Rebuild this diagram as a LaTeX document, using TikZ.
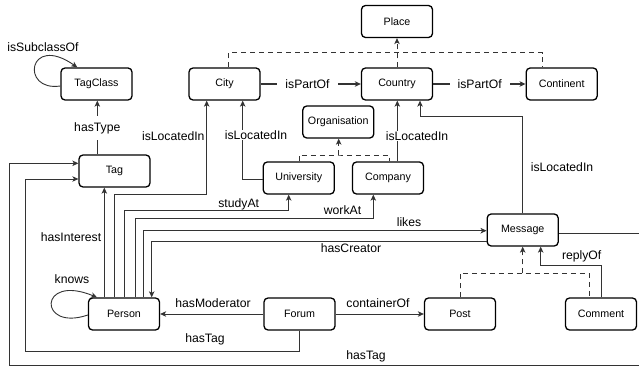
\documentclass[tikz,border=0pt]{standalone}
\usepackage{fontspec}
\setmainfont{Liberation Sans}
\usetikzlibrary{arrows.meta}
\tikzset{
  ent/.style={draw=black, line width=1.3pt, rounded corners=4pt, minimum width=71pt, minimum height=32pt, inner sep=0pt, font=\fontsize{10.7}{12}\selectfont, fill=white},
  conn/.style={draw=black!80, line width=0.9pt, -{Stealth[length=6pt,width=5.5pt,inset=1.6pt]}},
  dsh/.style={draw=black!80, line width=0.9pt, dash pattern=on 5pt off 4pt},
  lbl/.style={font=\fontsize{12.2}{14}\selectfont, inner sep=0.5pt},
  lblw/.style={lbl, fill=white},
}
\begin{document}
\begin{tikzpicture}[x=1pt,y=-1pt]
\clip (0,0) rectangle (639,371);
\fill[white] (0,0) rectangle (639,371);
% nodes
\node[ent] (TagClass) at (96.5,84) {TagClass};
\node[ent] (City) at (224.5,84) {City};
\node[ent] (Place) at (397,21.5) {Place};
\node[ent] (Country) at (397,84) {Country};
\node[ent] (Continent) at (561.7,84) {Continent};
\node[ent] (Tag) at (114.5,171) {Tag};
\node[ent] (Organisation) at (338.3,122) {Organisation};
\node[ent] (University) at (298.8,178) {University};
\node[ent] (Company) at (388,178) {Company};
\node[ent] (Message) at (522.7,230) {Message};
\node[ent] (Person) at (124,314) {Person};
\node[ent] (Forum) at (299.5,314) {Forum};
\node[ent] (Post) at (460,314) {Post};
\node[ent] (Comment) at (601,314) {Comment};
% coordinates
\coordinate (gP) at (397,52.7);
\coordinate (gO) at (338.7,155);
\coordinate (gM) at (522.7,273.3);
% isSubclassOf
\draw[conn] ([yshift=-2pt]TagClass.west) .. controls (20,92) and (28,33) .. ([xshift=-19.2pt]TagClass.north);
\node[lbl] (lSub) at (43,47) {isSubclassOf};
% hasType
\draw[conn] ([xshift=-17.2pt]Tag.north) -- ([xshift=0.8pt]TagClass.south);
\node[lblw, inner ysep=6pt] (lType) at (97.3,128) {hasType};
% isPartOf
\draw[conn, line width=1.4pt] (City) -- (Country);
\node[lblw, inner xsep=8pt] (lPart1) at (307.5,84) {isPartOf};
\draw[conn, line width=1.4pt] (Country) -- (Continent);
\node[lblw, inner xsep=8pt] (lPart2) at (479.7,84) {isPartOf};
% Place generalisation
\draw[dsh] ([xshift=4.2pt]City.north) |- (gP) -| ([xshift=-19pt]Continent.north);
\draw[dsh, -{Stealth[length=6pt,width=5.5pt,inset=1.6pt]}] (Country.north) -- (Place.south);
% Organisation generalisation
\draw[dsh] ([xshift=0.5pt]University.north) |- (gO) -| ([xshift=1.3pt]Company.north);
\draw[dsh, -{Stealth[length=6pt,width=5.5pt,inset=1.6pt]}] (gO) -- ([xshift=0.4pt]Organisation.south);
% University isLocatedIn City
\draw[conn] ([yshift=-1pt]University.west) -| ([xshift=18.2pt]City.south);
\node[lblw] (lLoc1) at (256,135) {isLocatedIn};
% Person isLocatedIn City
\draw[conn] ([xshift=-9.7pt]Person.north) |- (206.7,194) -- ([xshift=-17.8pt]City.south);
\node[lbl] (lLoc2) at (173.3,136) {isLocatedIn};
% studyAt
\draw[conn] (Person.north) |- (288.7,210) -- ([xshift=-10.1pt]University.south);
\node[lbl] (lStudy) at (238.7,204) {studyAt};
% workAt
\draw[conn] ([xshift=11pt]Person.north) |- (373.3,218.3) -- ([xshift=-14.7pt]Company.south);
\node[lbl] (lWork) at (342.5,210) {workAt};
% likes
\draw[conn] ([xshift=19.3pt]Person.north) |- ([yshift=-0.7pt]Message.west);
\node[lbl] (lLikes) at (409,221.7) {likes};
% hasCreator
\draw[conn] ([yshift=-11.7pt]Message.west) -| ([xshift=27.7pt]Person.north);
\node[lbl] (lCreator) at (351,248.3) {hasCreator};
% Message isLocatedIn Country
\draw[conn] (Message.north) |- (420,116) -- ([xshift=23pt]Country.south);
\node[lbl] (lLoc3) at (562,166.7) {isLocatedIn};
% Company isLocatedIn Country
\draw[conn] ([xshift=9.3pt]Company.north) -- ([xshift=0.3pt]Country.south);
\node[lblw] (lLoc4) at (417,136) {isLocatedIn};
% Message hasTag Tag
\draw[conn] ([yshift=-3.3pt]Message.east) -- (642,233.3) |- (9.3,365) |- ([yshift=7.7pt]Tag.west);
\node[lbl] (lTag1) at (366,356) {hasTag};
% Forum hasTag Tag
\draw[conn] (Forum.south) |- (25,351.7) |- ([yshift=-8pt]Tag.west);
\node[lbl] (lTag2) at (205,339.3) {hasTag};
% hasModerator
\draw[conn] (Forum) -- (Person);
\node[lbl] (lMod) at (213,302.7) {hasModerator};
% containerOf
\draw[conn] (Forum) -- (Post);
\node[lbl] (lCont) at (378,302.7) {containerOf};
% Message generalisation
\draw[dsh] (Post.north) |- (gM) -| ([xshift=-11.7pt]Comment.north);
\draw[dsh, -{Stealth[length=6pt,width=5.5pt,inset=1.6pt]}] (gM) -- (Message.south);
% replyOf
\draw[conn] ([xshift=0.7pt]Comment.north) |- (540.7,265) -- ([xshift=18pt]Message.south);
\node[lbl] (lReply) at (581.7,256) {replyOf};
% hasInterest
\draw[conn] ([xshift=-19.7pt]Person.north) -- ([xshift=-10.2pt]Tag.south);
\node[lbl] (lInt) at (71,237.3) {hasInterest};
% knows
\draw[conn] ([yshift=-1pt]Person.west) .. controls (38,332) and (38,273) .. ([xshift=-27pt]Person.north);
\node[lbl] (lKnows) at (72,279.3) {knows};
\end{tikzpicture}
\end{document}
